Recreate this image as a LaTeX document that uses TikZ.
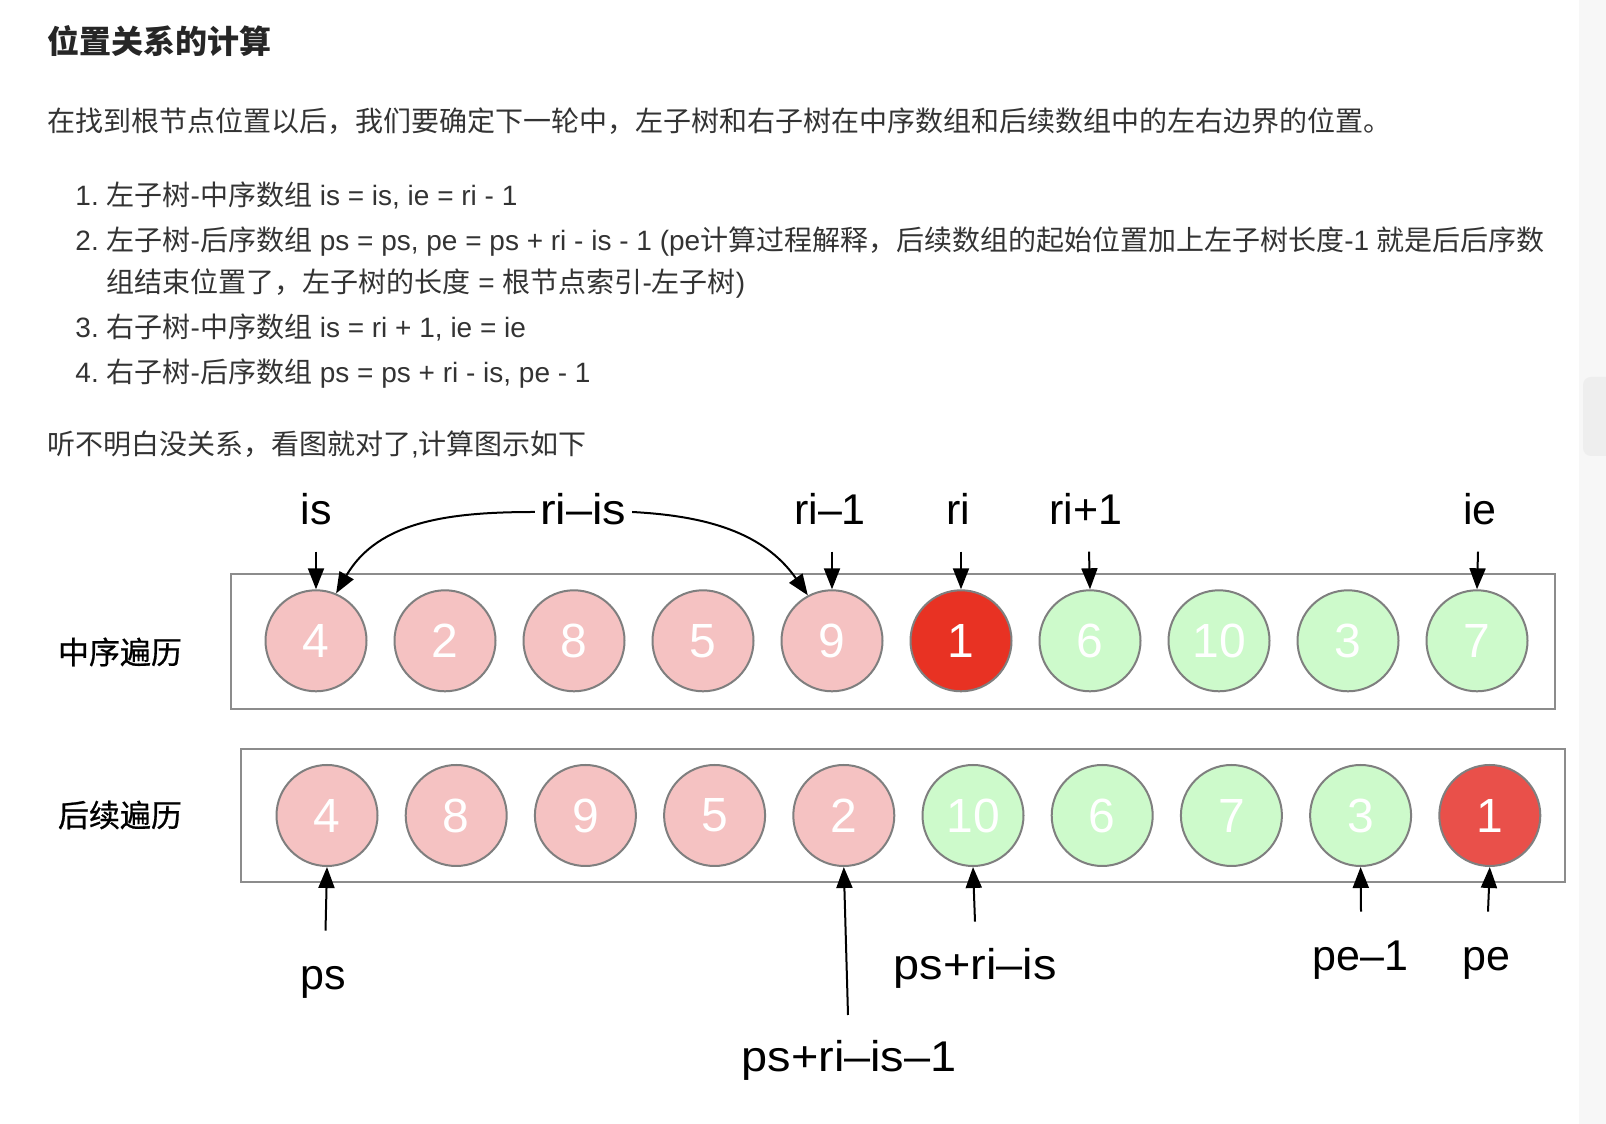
\documentclass[tikz,border=0pt]{standalone}
\usepackage{fontspec}
\usepackage{graphicx}
\setmainfont{Liberation Sans}
\newfontfamily\cjk{Noto Sans CJK SC}
\newfontfamily\cjkmed{Noto Sans CJK SC}[FakeBold=0.7]
\usetikzlibrary{arrows.meta}
\definecolor{pinkc}{HTML}{F5C2C2}
\definecolor{greenc}{HTML}{CDFACB}
\definecolor{redtop}{HTML}{E83223}
\definecolor{redbot}{HTML}{E9504A}
\definecolor{ringc}{HTML}{7F7F7F}
\definecolor{boxc}{HTML}{8C8C8C}
\definecolor{textc}{HTML}{333333}
\definecolor{stripc}{HTML}{F7F7F7}
\definecolor{buttonc}{HTML}{EEEEEE}
\newcommand\fs[1]{\fontsize{#1pt}{#1pt}\selectfont}
\newcommand\wide[1]{\scalebox{1.09}[1]{#1}}
\tikzset{
  txt/.style={anchor=base west, inner sep=0pt, font=\fs{28}, text=textc},
  num/.style={anchor=base east, inner sep=0pt, font=\fs{28}, text=textc},
  cnode/.style={circle, draw=ringc, line width=2pt, minimum size=101pt, inner sep=0pt, text=white, font=\fs{48}},
  arrbox/.style={draw=boxc, line width=2pt, inner sep=0pt, fill=white},
  lab/.style={anchor=base, inner sep=0pt, font=\fs{43}, text=black},
  side/.style={inner sep=0pt, font=\fs{31}\cjkmed, text=black},
  arr/.style={-{Triangle[length=21pt,width=16pt]}, line width=2pt, black}
}
\begin{document}
\begin{tikzpicture}[x=1pt,y=1pt]
\useasboundingbox (0,0) rectangle (1606,1124);
\fill[white] (0,0) rectangle (1606,1124);
% right strip of the screenshot
\fill[stripc] (1579,0) rectangle (1606,1124);
\fill[buttonc, rounded corners=8pt] (1583,668) rectangle (1620,747);

% text block
\node[anchor=base west, inner sep=0pt, font=\fs{32}\cjk\bfseries, text=black!85] (title) at (47,1070.3) {位置关系的计算};
\node[txt] (para) at (47,992.4) {\cjk 在找到根节点位置以后，我们要确定下一轮中，左子树和右子树在中序数组和后续数组中的左右边界的位置。};
\node[num] (n1) at (99,918.4) {1.};
\node[txt] (l1) at (106.5,918.4) {{\cjk 左子树}-{\cjk 中序数组} is = is, ie = ri - 1};
\node[num] (n2) at (99,873.4) {2.};
\node[txt] (l2) at (106.5,873.4) {{\cjk 左子树}-{\cjk 后序数组} ps = ps, pe = ps + ri - is - 1 (pe{\cjk 计算过程解释，后续数组的起始位置加上左子树长度}-1 {\cjk 就是后后序数}};
\node[txt] (l2b) at (106.5,831.4) {{\cjk 组结束位置了，左子树的长度} = {\cjk 根节点索引}-{\cjk 左子树})};
\node[num] (n3) at (99,786.4) {3.};
\node[txt] (l3) at (106.5,786.4) {{\cjk 右子树}-{\cjk 中序数组} is = ri + 1, ie = ie};
\node[num] (n4) at (99,741.4) {4.};
\node[txt] (l4) at (106.5,741.4) {{\cjk 右子树}-{\cjk 后序数组} ps = ps + ri - is, pe - 1};
\node[txt] (last) at (47,669.4) {{\cjk 听不明白没关系，看图就对了},{\cjk 计算图示如下}};

% side labels
\node[side] (lin) at (120,472) {中序遍历};
\node[side] (lpost) at (120,309) {后续遍历};

% boxes
\node[arrbox, minimum width=1324pt, minimum height=135.6pt] (boxa) at (893,482.5) {};
\node[arrbox, minimum width=1324pt, minimum height=133.2pt] (boxb) at (903,308.1) {};

% inorder circles
\foreach \i/\v/\c in {1/4/pinkc,2/2/pinkc,3/8/pinkc,4/5/pinkc,5/9/pinkc,6/1/redtop,7/6/greenc,8/10/greenc,9/3/greenc,10/7/greenc}
  \node[cnode, fill=\c] (a\i) at ({316+129*(\i-1)},483.2) {\v};
% postorder circles
\foreach \i/\v/\c in {1/4/pinkc,2/8/pinkc,3/9/pinkc,4/5/pinkc,5/2/pinkc,6/10/greenc,7/6/greenc,8/7/greenc,9/3/greenc,10/1/redbot}
  \node[cnode, fill=\c] (b\i) at ({327+129.2*(\i-1)},308.5) {\v};

% top labels
\node[lab] (tis) at (316,599) {is};
\node[lab] (triis) at (583,599) {\wide{ri–is}};
\node[lab] (trim) at (830,599) {ri–1};
\node[lab] (tri) at (958,599) {ri};
\node[lab] (trip) at (1086,599) {ri+1};
\node[lab] (tie) at (1480,599) {ie};

% top arrows
\coordinate (ta1) at (316,572.3);
\coordinate (ta5) at (832,572.3);
\coordinate (ta6) at (961,572.3);
\coordinate (ta7) at (1089,572.3);
\coordinate (ta10) at (1478,572.3);
\draw[arr] (ta1) -- (a1.north);
\draw[arr] (ta5) -- (a5.north);
\draw[arr] (ta6) -- (a6.north);
\draw[arr] (ta7) -- (a7.north);
\draw[arr] (ta10) -- (a10.north);

% curved arrows from ri-is
\coordinate (cl) at ([xshift=-5pt,yshift=13pt]triis.base west);
\coordinate (cr) at ([xshift=6pt,yshift=13pt]triis.base east);
\draw[arr] (cl) to[out=180,in=60] (a1.67);
\draw[arr] (cr) to[out=-3,in=125] (a5.118);

% bottom labels
\node[lab] (bps) at (323.3,134) {ps};
\node[lab] (bpsris) at (975.3,144) {\wide{ps+ri–is}};
\node[lab] (bpsrism) at (849,52) {\wide{ps+ri–is–1}};
\node[lab] (bpem) at (1360.3,153.5) {pe–1};
\node[lab] (bpe) at (1486.7,153.5) {pe};

% bottom arrows
\coordinate (ba1) at (325.5,193.3);
\coordinate (ba5) at (848,109);
\coordinate (ba6) at (975,202.3);
\coordinate (ba9) at (1361,212.3);
\coordinate (ba10) at (1488,212.3);
\draw[arr] (ba1) -- (b1.south);
\draw[arr] (ba5) -- (b5.south);
\draw[arr] (ba6) -- (b6.south);
\draw[arr] (ba9) -- (b9.south);
\draw[arr] (ba10) -- (b10.south);
\end{tikzpicture}
\end{document}
